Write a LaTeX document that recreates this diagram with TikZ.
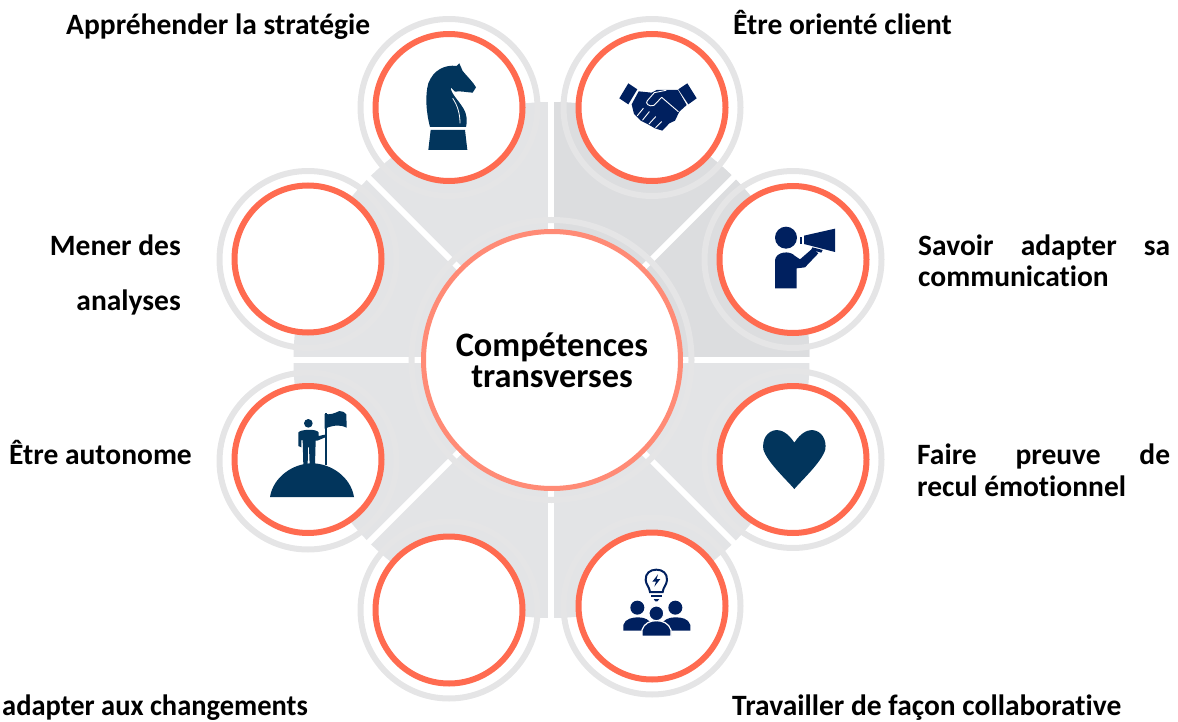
\documentclass[tikz,border=0pt]{standalone}
\usepackage{graphicx}
\usepackage{fontspec}
\setmainfont[Ligatures=NoCommon]{Carlito}
\definecolor{wedgeL}{HTML}{E3E4E6}
\definecolor{wedgeD}{HTML}{DCDDDF}
\definecolor{ringG}{HTML}{E5E5E6}
\definecolor{coral}{HTML}{FF6B50}
\definecolor{coralL}{HTML}{FF8B76}
\definecolor{navyA}{HTML}{02355C}
\definecolor{navyB}{HTML}{00205F}
\tikzset{
  halo/.style={circle,draw=ringG,line width=6pt,minimum size=177pt,inner sep=0pt},
  badge/.style={circle,draw=coral,fill=white,line width=6pt,minimum size=147pt,inner sep=0pt},
  hub/.style={circle,draw=coralL,fill=white,line width=5pt,minimum size=257pt,inner sep=0pt,align=center,
    font=\bfseries\fontsize{34.3}{31}\selectfont},
  gapline/.style={draw=white,line width=6pt},
  lab/.style={inner sep=0pt,font=\bfseries\fontsize{29.5}{32}\selectfont},
  zoomed/.style={x=0.33333pt,y=-0.33333pt},
}
\begin{document}
\begin{tikzpicture}[x=1pt,y=-1pt]
\useasboundingbox (0,0) rectangle (1178,722);
\coordinate (c) at (551.5,360);
% wedges
\fill[wedgeL] (c) circle[radius=258];
\begin{scope}
\clip (551,360) rectangle (830,80);
\fill[wedgeD] (c) circle[radius=258];
\end{scope}
% gaps
\coordinate (gT) at (551,90); \coordinate (gB) at (551,630);
\coordinate (gL) at (285,360); \coordinate (gR) at (820,360);
\coordinate (gTL) at (361,170); \coordinate (gBR) at (741,550);
\coordinate (gTR) at (741,170); \coordinate (gBL) at (361,550);
\draw[gapline] (gT)--(gB);
\draw[gapline] (gL)--(gR);
\draw[gapline] (gTL)--(gBR);
\draw[gapline] (gTR)--(gBL);
% centre halo
\node[circle,draw=ringG,line width=6pt,minimum size=280pt,inner sep=0pt] (hubhalo) at (c) {};
% halos
\node[halo] (h1) at (449,107.5) {};
\node[halo] (h2) at (652,107.5) {};
\node[halo] (h3) at (793,259.5) {};
\node[halo] (h4) at (793,459.5) {};
\node[halo] (h5) at (652,606) {};
\node[halo] (h6) at (449,610) {};
\node[halo] (h7) at (308,461) {};
\node[halo] (h8) at (308,259.5) {};
% badges
\node[badge] (b1) at (449,107.5) {};
\node[badge] (b2) at (652,107.5) {};
\node[badge] (b3) at (793,259.5) {};
\node[badge] (b4) at (793,459.5) {};
\node[badge] (b5) at (652,606) {};
\node[badge] (b6) at (449,610) {};
\node[badge] (b7) at (308,459.5) {};
\node[badge] (b8) at (308,259) {};
% hub
\node[hub] (hub) at (552,360) {Compétences\\[0pt]transverses};
% knight
\begin{scope}[shift={(410,55)},zoomed]
\fill[navyA] (55,285) -- (62,225) -- (165,225) -- (172,285) -- cycle;
\fill[navyA] (60,216) .. controls (48,170) and (45,120) .. (55,85)
  .. controls (70,45) and (105,28) .. (140,33) -- (148,25) -- (158,48)
  .. controls (172,65) and (190,82) .. (198,97) -- (188,113)
  .. controls (170,112) and (150,107) .. (135,110) -- (122,97)
  .. controls (122,115) and (145,135) .. (160,160)
  .. controls (172,180) and (172,200) .. (168,216) -- cycle;
\draw[white,line width=0.8pt] (128,130) .. controls (142,150) and (150,175) .. (150,205);
\end{scope}
% handshake
\begin{scope}[shift={(610,70)},zoomed]
\fill[navyB] (28,85) -- (55,40) -- (82,58) -- (55,103) -- cycle;
\fill[navyB] (205,58) -- (232,40) -- (260,85) -- (235,103) -- cycle;
\fill[navyB] (65,103) -- (86,64) -- (125,68) -- (140,60) -- (168,60) -- (204,60) -- (230,105) -- (208,125) -- (195,152) -- (178,160) -- (157,182) -- (135,175) -- (112,162) -- (92,152) -- (72,132) -- cycle;
\draw[white,line width=0.9pt,line join=round,line cap=round] (205,125) -- (155,82) -- (132,106) .. controls (118,112) and (104,100) .. (112,92) -- (133,68) -- (168,61);
\draw[white,line width=0.9pt,line cap=round] (100,115) -- (82,137) (118,125) -- (98,150) (137,140) -- (117,162) (155,155) -- (137,173);
\end{scope}
% megaphone person
\begin{scope}[shift={(650,170)},zoomed]
\fill[navyB] (408,203) circle[radius=33];
\fill[navyB] (375,355) -- (375,270) .. controls (378,245) and (420,240) .. (435,258) -- (450,268) -- (488,235) -- (505,250) -- (465,292) -- (440,295) -- (440,355) -- cycle;
\fill[navyB] (462,197) -- (555,176) -- (555,246) -- (462,222) -- cycle;
\fill[navyB] (449,200) rectangle (457,222);
\fill[navyB] (487,232) -- (518,240) -- (514,248) -- (484,240) -- cycle;
\end{scope}
% heart
\begin{scope}[shift={(750,420)},zoomed]
\fill[navyA] (133,68) .. controls (115,40) and (95,30) .. (80,30)
  .. controls (50,32) and (36,60) .. (40,88)
  .. controls (50,125) and (110,180) .. (133,207)
  .. controls (156,180) and (216,125) .. (226,88)
  .. controls (230,60) and (216,32) .. (186,30)
  .. controls (171,30) and (151,40) .. (133,68) -- cycle;
\end{scope}
% collaboration
\begin{scope}[shift={(560,530)},zoomed]
\draw[navyB,line width=2pt] (270,186) .. controls (268,170) and (258,165) .. (257,150)
  .. controls (256,130) and (270,119) .. (289,119)
  .. controls (308,119) and (322,130) .. (321,150)
  .. controls (320,165) and (310,170) .. (308,186) -- cycle;
\fill[navyB] (294,133) -- (277,155) -- (288,155) -- (283,170) -- (301,147) -- (290,147) -- cycle;
\fill[navyB] (274,195) rectangle (306,201);
\fill[navyB] (281,207) -- (298,207) -- (292,214) -- (286,214) -- cycle;
\fill[navyB] (232,233) circle[radius=21];
\fill[navyB] (346,233) circle[radius=21];
\fill[navyB] (190,302) -- (190,285) .. controls (195,265) and (220,262) .. (235,262) .. controls (255,262) and (270,270) .. (275,285) -- (275,302) -- cycle;
\fill[navyB] (303,302) -- (303,285) .. controls (310,270) and (325,262) .. (345,262) .. controls (365,262) and (385,265) .. (391,285) -- (391,302) -- cycle;
\fill[navyB,draw=white,line width=1.2pt] (246,319) -- (246,300) .. controls (252,280) and (270,272) .. (289,272) .. controls (308,272) and (327,280) .. (333,300) -- (333,319) -- cycle;
\fill[navyB,draw=white,line width=1pt] (289,250) circle[radius=22];
\end{scope}
% flag on hill
\begin{scope}[shift={(210,360)},zoomed]
\fill[navyA] (180,411) .. controls (190,350) and (250,310) .. (306,310) .. controls (362,310) and (422,350) .. (432,411) -- cycle;
\fill[navyA] (295,190) circle[radius=13];
\fill[navyA] (265,258) -- (265,218) .. controls (268,208) and (322,205) .. (326,218) -- (326,228) -- (345,224) -- (346,232) -- (322,242) -- (317,242) -- (315,315) -- (299,315) -- (297,262) -- (294,262) -- (293,315) -- (280,315) -- (278,240) -- (274,240) -- (274,262) -- cycle;
\fill[navyA] (344,160) rectangle (351,315);
\fill[navyA] (344,162) .. controls (360,165) and (375,160) .. (388,153) .. controls (398,152) and (405,158) .. (409,163) -- (410,203) .. controls (395,195) and (375,193) .. (344,206) -- cycle;
\end{scope}
% labels
\node[lab,anchor=base west] (t1) at (66,35) {Appréhender la stratégie};
\node[lab,anchor=base west] (t2) at (733,35) {Être orienté client};
\node[lab,anchor=base west] (t3a) at (918,255) {\makebox[252pt]{Savoir\hfill adapter\hfill sa}};
\node[lab,anchor=base west] (t3b) at (918,287) {communication};
\node[lab,anchor=base east] (t8a) at (181,255.5) {Mener des};
\node[lab,anchor=base east] (t8b) at (181,310.5) {analyses};
\node[lab,anchor=base west] (t7) at (9,464) {Être autonome};
\node[lab,anchor=base west] (t4a) at (917,464) {\makebox[253pt]{Faire\hfill preuve\hfill de}};
\node[lab,anchor=base west] (t4b) at (917,496) {recul émotionnel};
\node[lab,anchor=base west] (t5) at (732,715) {Travailler de façon collaborative};
\node[lab,anchor=base east] (t6) at (308,715) {\scalebox{0.965}[1]{adapter aux changements}};
\end{tikzpicture}
\end{document}
